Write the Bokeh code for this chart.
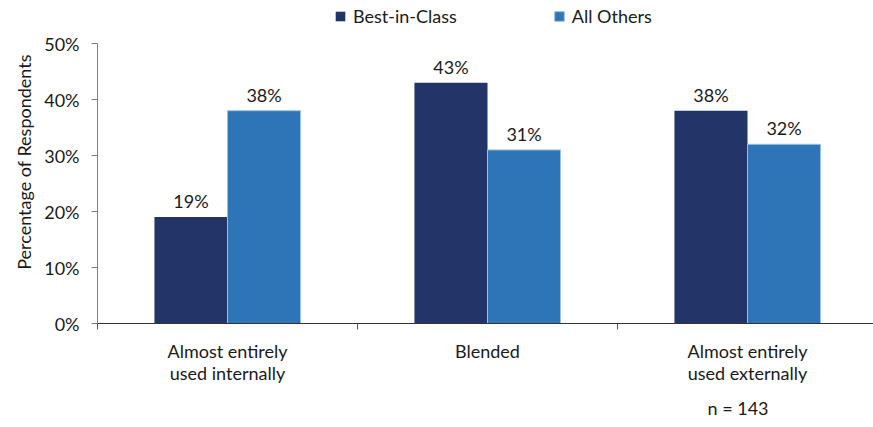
from bokeh.plotting import figure
from bokeh.models import (ColumnDataSource, Range1d, FixedTicker, LabelSet, Title,
                          Legend, LegendItem, NumeralTickFormatter)
from bokeh.core.properties import value
from bokeh.embed import file_html
from bokeh.resources import INLINE

categories = ["Almost entirely\nused internally", "Blended", "Almost entirely\nused externally"]
best_in_class = [19, 43, 38]
all_others = [38, 31, 32]
y_ticks = [0, 10, 20, 30, 40, 50]
series_names = ["Best-in-Class", "All Others"]
colors = ["#233468", "#2E75B7"]
note = "n = 143"

FONT = "Lato"
FS = "18px"
W, H = 873, 427
centers = [i + 0.5 for i in range(len(categories))]
bw = 0.281
px_per_unit = 280 / 50

p = figure(width=W, height=H, output_backend="svg", toolbar_location=None,
           x_range=Range1d(0, 776 / 260), y_range=Range1d(0, 323 / px_per_unit),
           min_border_left=97, min_border_right=0, min_border_top=0, min_border_bottom=104)
p.outline_line_color = None
p.grid.grid_line_color = None
p.background_fill_color = "white"
p.border_fill_color = "white"

src_a = ColumnDataSource(dict(x=[c - bw / 2 for c in centers], top=best_in_class,
                              lab=[f"{v}%" for v in best_in_class]))
src_b = ColumnDataSource(dict(x=[c + bw / 2 for c in centers], top=all_others,
                              lab=[f"{v}%" for v in all_others]))
ra = p.vbar(x="x", top="top", width=bw, source=src_a, fill_color=colors[0], line_color=None)
rb = p.vbar(x="x", top="top", width=bw, source=src_b, fill_color=colors[1],
            line_color="#9DBFE0", line_width=1)

for src in (src_a, src_b):
    p.add_layout(LabelSet(x="x", y="top", text="lab", source=src, text_align="center",
                          text_baseline="bottom", y_offset=5, text_font=value(FONT),
                          text_font_size=value(FS), text_color="#1a1a1a"))

# x axis
xa = p.xaxis[0]
xa.ticker = FixedTicker(ticks=centers, minor_ticks=[0, 1, 2, 3])
xa.major_label_overrides = {c: lab for c, lab in zip(centers, categories)}
xa.major_tick_out = 0
xa.major_tick_in = 0
xa.minor_tick_out = 6
xa.minor_tick_in = 0
xa.minor_tick_line_color = "#555555"
xa.axis_line_color = "#333333"
xa.major_label_text_font = FONT
xa.major_label_text_font_size = FS
xa.major_label_text_color = "#1a1a1a"
xa.major_label_text_line_height = 1.0
xa.major_label_standoff = 10

# y axis
ya = p.yaxis[0]
ya.ticker = FixedTicker(ticks=y_ticks)
ya.bounds = (0, 50)
ya.formatter = NumeralTickFormatter(format="0")
ya.major_label_overrides = {t: f"{t}%" for t in y_ticks}
ya.minor_tick_line_color = None
ya.major_tick_out = 6
ya.major_tick_in = 0
ya.axis_line_color = "#808080"
ya.major_tick_line_color = "#808080"
ya.major_label_text_font = FONT
ya.major_label_text_font_size = FS
ya.major_label_text_color = "#1a1a1a"
ya.major_label_standoff = 12
ya.axis_label = "Percentage of Respondents"
ya.axis_label_text_font = FONT
ya.axis_label_text_font_size = FS
ya.axis_label_text_font_style = "normal"
ya.axis_label_text_color = "#1a1a1a"
ya.axis_label_standoff = 6

legend = Legend(items=[LegendItem(label=series_names[0], renderers=[ra]),
                       LegendItem(label=series_names[1], renderers=[rb])],
                orientation="horizontal", location=(237, 296),
                label_text_font=FONT, label_text_font_size=FS, label_text_color="#1a1a1a",
                glyph_width=12, glyph_height=12, label_standoff=7, spacing=96,
                border_line_color=None, background_fill_alpha=0, padding=0, margin=0)
p.add_layout(legend, "center")

p.add_layout(Title(text=note, align="left", offset=610, text_font=FONT,
                   text_font_size=FS, text_font_style="normal", text_color="#1a1a1a",
                   standoff=16), "below")

open("out.html", "w").write(file_html(p, INLINE))
